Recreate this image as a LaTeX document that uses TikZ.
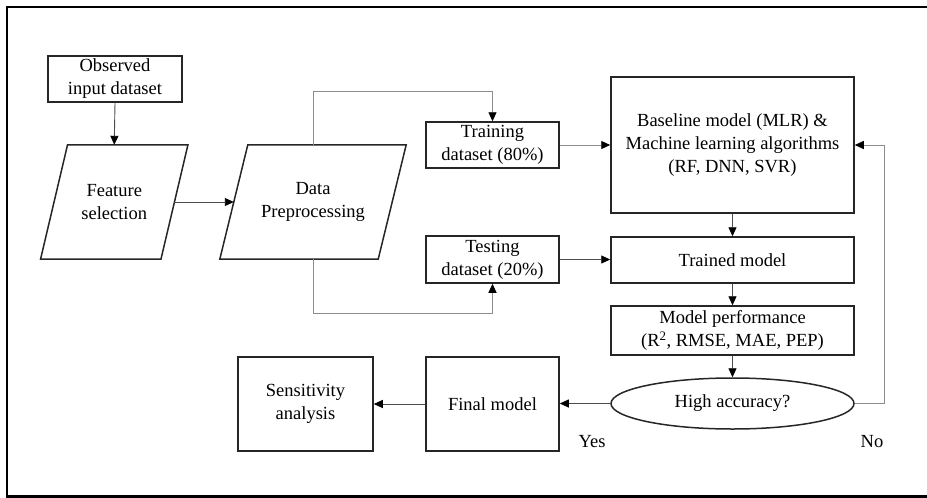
\documentclass[tikz,border=0pt]{standalone}
\usepackage{fontspec}
\newfontfamily\timesx{LiberationSerif}[Extension=.ttf,UprightFont=*-Regular,BoldFont=*-Bold]
\usetikzlibrary{arrows.meta,shapes.geometric,calc}
\begin{document}
\begin{tikzpicture}[x=1pt,y=-1pt,
  font=\timesx\fontsize{18.5}{23}\selectfont,
  box/.style={draw=black!85,line width=1.5pt,rectangle,inner sep=0pt,align=center},
  pbox/.style={rectangle,inner sep=0pt,align=center},
  plines/.style={draw=black!85,line width=1.5pt,line join=miter},
  conn/.style={draw=black!70,line width=0.9pt,-{Triangle[length=9pt,width=8pt]},arrows={[color=black]}},
  gconn/.style={draw=black!45,line width=0.9pt,-{Triangle[length=9pt,width=8pt]},arrows={[color=black]}},
  lbl/.style={inner sep=0pt}
]
\useasboundingbox (0,0) rectangle (927,498);
% frame
\draw[line width=2.4pt,black] (928,7) -- (7,7) -- (7,496.5) -- (928,496.5);

% nodes
\node[box,minimum width=134pt,minimum height=46pt] (obs) at (115,79) {Observed\\input dataset};
\node[pbox,minimum width=120pt,minimum height=114pt] (fs) at (114.25,202) {Feature\\selection};
\node[pbox,minimum width=158pt,minimum height=114pt] (dp) at (313,202) {Data\\Preprocessing};
\node[box,minimum width=133pt,minimum height=46pt] (train) at (492.5,145) {Training\\dataset (80\%)};
\node[box,minimum width=133pt,minimum height=47pt] (test) at (492.5,259.5) {Testing\\dataset (20\%)};
\node[box,minimum width=243pt,minimum height=136pt] (base) at (732.5,145) {Baseline model (MLR) \&\\Machine learning algorithms\\(RF, DNN, SVR)};
\node[box,minimum width=243pt,minimum height=46pt] (trained) at (732.5,260) {Trained model};
\node[box,minimum width=243pt,minimum height=49pt] (perf) at (732.5,330.5) {Model performance\\(R\textsuperscript{2}, RMSE, MAE, PEP)};
\node[draw=black!85,line width=1.5pt,ellipse,inner sep=0pt,minimum width=243pt,minimum height=51pt] (acc) at (732.5,403.5) {High accuracy?};
\node[box,minimum width=133pt,minimum height=94pt] (final) at (492.5,404) {Final model};
\node[box,minimum width=135pt,minimum height=94pt] (sens) at (305.5,404) {Sensitivity\\analysis};
\node[lbl] (yes) at (592,442) {Yes};
\node[lbl] (no) at (872,442) {No};

% parallelograms
\draw[plines] ($(fs.north west)+(13.5,0)$) -- ($(fs.north east)+(13.5,0)$) -- ($(fs.south east)+(-13.5,0)$) -- ($(fs.south west)+(-13.5,0)$) -- cycle;
\draw[plines] ($(dp.north west)+(14,0)$) -- ($(dp.north east)+(14,0)$) -- ($(dp.south east)+(-14,0)$) -- ($(dp.south west)+(-14,0)$) -- cycle;

% connectors
\coordinate (uptop) at (313,91);
\coordinate (downbot) at (313,313);
\coordinate (noright) at (884,403.5);
\draw[conn] (obs.south) -- (fs.north);
\draw[conn] (fs.east) -- (dp.west);
\draw[gconn] (dp.north) -- (uptop) -| (train.north);
\draw[gconn] (dp.south) -- (downbot) -| (test.south);
\draw[gconn] (train.east) -- (base.west);
\draw[conn] (test.east) -- (trained.west |- test.east);
\draw[conn] (base.south) -- (trained.north);
\draw[conn] (trained.south) -- (perf.north);
\draw[conn] (perf.south) -- (acc.north);
\draw[conn] (acc.west) -- (final.east |- acc.west);
\draw[conn] (final.west) -- (sens.east);
\draw[gconn] (acc.east) -- (noright) |- (base.east);
\end{tikzpicture}
\end{document}
